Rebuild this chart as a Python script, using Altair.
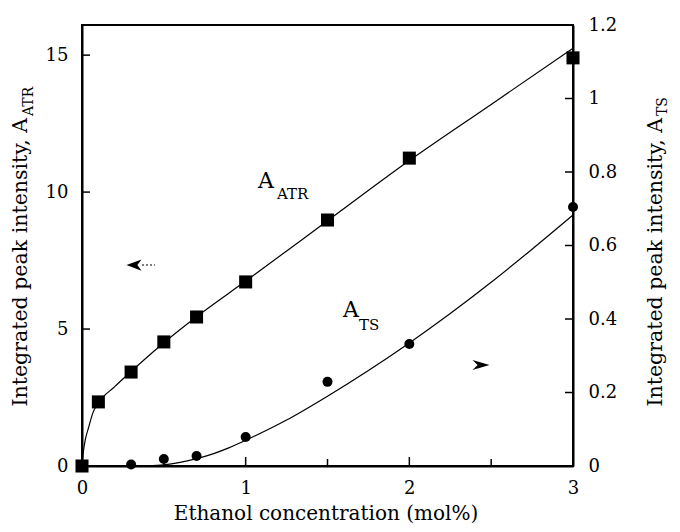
import altair as alt
import pandas as pd

# ---- data ----
conc_atr = [0.0, 0.1, 0.3, 0.5, 0.7, 1.0, 1.5, 2.0, 3.0]
a_atr = [0.0, 2.34, 3.43, 4.53, 5.44, 6.72, 8.98, 11.24, 14.9]

conc_ts = [0.0, 0.3, 0.5, 0.7, 1.0, 1.5, 2.0, 3.0]
a_ts = [0.0, 0.004, 0.019, 0.027, 0.079, 0.229, 0.332, 0.705]

# fitted curves
fit_atr_x = [0.0, 0.008, 0.02, 0.04, 0.067, 0.1, 0.2, 0.3, 0.5, 0.7, 1.0, 1.5, 2.0, 2.5, 3.0]
fit_atr_y = [0.0, 0.5, 0.95, 1.4, 1.95, 2.3, 2.9, 3.45, 4.5, 5.45, 6.75, 8.95, 11.15, 13.2, 15.25]
fit_ts_x = [0.4, 0.5, 0.6, 0.7, 0.8, 0.9, 1.0, 1.25, 1.5, 1.75, 2.0, 2.25, 2.5, 2.75, 3.0]
fit_ts_y = [0.0, 0.003, 0.01, 0.02, 0.033, 0.05, 0.07, 0.125, 0.19, 0.26, 0.335, 0.415, 0.5, 0.59, 0.683]

x_labels = [0, 1, 2, 3]
x_ticks_major = [1, 2]
x_ticks_minor = [0.5, 1.5, 2.5]
left_labels = [0, 5, 10, 15]
left_ticks = [5, 10, 15]
right_labels = [0, 0.2, 0.4, 0.6, 0.8, 1.0, 1.2]
right_ticks = [0.2, 0.4, 0.6, 0.8, 1.0]

x_title = ["Ethanol concentration (mol%)"]
y_title_main = ["Integrated peak intensity, A"]
left_sub = ["ATR"]
right_sub = ["TS"]
label_main = ["A"]

# ---- style ----
FONT = "DejaVu Serif"
W, H = 491, 441

xs = alt.Scale(domain=[0, 3], nice=False, zero=False)
yl = alt.Scale(domain=[0, 16.1], nice=False)
yr = alt.Scale(domain=[0, 1.2], nice=False)

common = dict(format="~g", title=None, grid=False, ticks=False, tickSize=0, labelFlush=False,
              labelFont=FONT, labelFontSize=18, labelColor="black",
              domainColor="black", domainWidth=2)
x_axis = alt.Axis(values=x_labels, labelPadding=13, **common)
yl_axis = alt.Axis(orient="left", values=left_labels, labelPadding=14, **common)
yr_axis = alt.Axis(orient="right", values=right_labels, labelPadding=15, **common)

X = lambda f: alt.X(f"{f}:Q", scale=xs, axis=x_axis)
YL = lambda f: alt.Y(f"{f}:Q", scale=yl, axis=yl_axis)
YR = lambda f: alt.Y(f"{f}:Q", scale=yr, axis=yr_axis)

df_atr = pd.DataFrame({"x": conc_atr, "y": a_atr})
df_ts = pd.DataFrame({"x": conc_ts, "y": a_ts})
df_fit_atr = pd.DataFrame({"x": fit_atr_x, "y": fit_atr_y})
df_fit_ts = pd.DataFrame({"x": fit_ts_x, "y": fit_ts_y})

fit_atr = alt.Chart(df_fit_atr).mark_line(color="black", strokeWidth=1.2, interpolate="monotone").encode(
    x=X("x"), y=YL("y"))
pts_atr = alt.Chart(df_atr).mark_square(size=170, color="black", opacity=1).encode(
    x=X("x"), y=YL("y"))

xt_major = alt.Chart(pd.DataFrame({"t": x_ticks_major})).mark_rule(color="black", strokeWidth=1.5).encode(
    x=X("t"), y=alt.value(H), y2=alt.value(H - 9))
xt_minor = alt.Chart(pd.DataFrame({"t": x_ticks_minor})).mark_rule(color="black", strokeWidth=1.5).encode(
    x=X("t"), y=alt.value(H), y2=alt.value(H - 7))
ylt = alt.Chart(pd.DataFrame({"t": left_ticks})).mark_rule(color="black", strokeWidth=1.5).encode(
    y=YL("t"), x=alt.value(0), x2=alt.value(8))


def text(lst, x, y, size, angle=0, align="left"):
    return alt.Chart(pd.DataFrame({"t": lst})).mark_text(
        font=FONT, fontSize=size, align=align, baseline="alphabetic", angle=angle, color="black"
    ).encode(text="t:N", x=alt.value(x), y=alt.value(y))


t_x = text(x_title, 244, 495, 20, align="center")
t_yl = text(y_title_main, -55, 93, 20.5, angle=270, align="right")
t_yl_sub = text(left_sub, -49, 91, 14, angle=270, align="left")
t_yr = text(y_title_main, 580, 93, 20.5, angle=270, align="right")
t_yr_sub = text(right_sub, 585, 91, 14, angle=270, align="left")
lab_atr = text(label_main, 176, 163, 22)
lab_atr_sub = text(left_sub, 195, 174, 15)
lab_ts = text(label_main, 261, 292, 22)
lab_ts_sub = text(right_sub, 277, 305, 15)

one = pd.DataFrame({"v": [0]})
arrow_l = alt.Chart(one).mark_point(shape="M-1,0 L1,-0.75 L0.45,0 L1,0.75 Z", filled=True, size=225,
                                    color="black", opacity=1).encode(x=alt.value(52), y=alt.value(240))
arrow_l_tail = alt.Chart(one).mark_rule(color="black", strokeWidth=1, strokeDash=[2, 2]).encode(
    x=alt.value(60), x2=alt.value(73), y=alt.value(240))
arrow_r = alt.Chart(one).mark_point(shape="M1,0 L-1,-0.6 L-0.4,0 L-1,0.6 Z", filled=True, size=289,
                                    color="black", opacity=1).encode(x=alt.value(399), y=alt.value(340))

left = alt.layer(fit_atr, pts_atr, xt_major, xt_minor, ylt, t_x, t_yl, t_yl_sub, t_yr, t_yr_sub,
                 lab_atr, lab_atr_sub, lab_ts, lab_ts_sub, arrow_l, arrow_l_tail, arrow_r)

fit_ts = alt.Chart(df_fit_ts).mark_line(color="black", strokeWidth=1.2, interpolate="monotone").encode(
    x=X("x"), y=YR("y"))
pts_ts = alt.Chart(df_ts).mark_circle(size=100, color="black", opacity=1).encode(
    x=X("x"), y=YR("y"))
yrt = alt.Chart(pd.DataFrame({"t": right_ticks})).mark_rule(color="black", strokeWidth=1.5).encode(
    y=YR("t"), x=alt.value(W), x2=alt.value(W - 8))

right = alt.layer(fit_ts, pts_ts, yrt)

chart = alt.layer(left, right).resolve_scale(y="independent").properties(
    width=W, height=H,
    padding={"left": 74, "top": 17, "right": 99, "bottom": 58},
    autosize=alt.AutoSizeParams(type="none"),
).configure_view(stroke="black", strokeWidth=2)

chart.save("out.html", embed_options={"renderer": "svg", "actions": False})
